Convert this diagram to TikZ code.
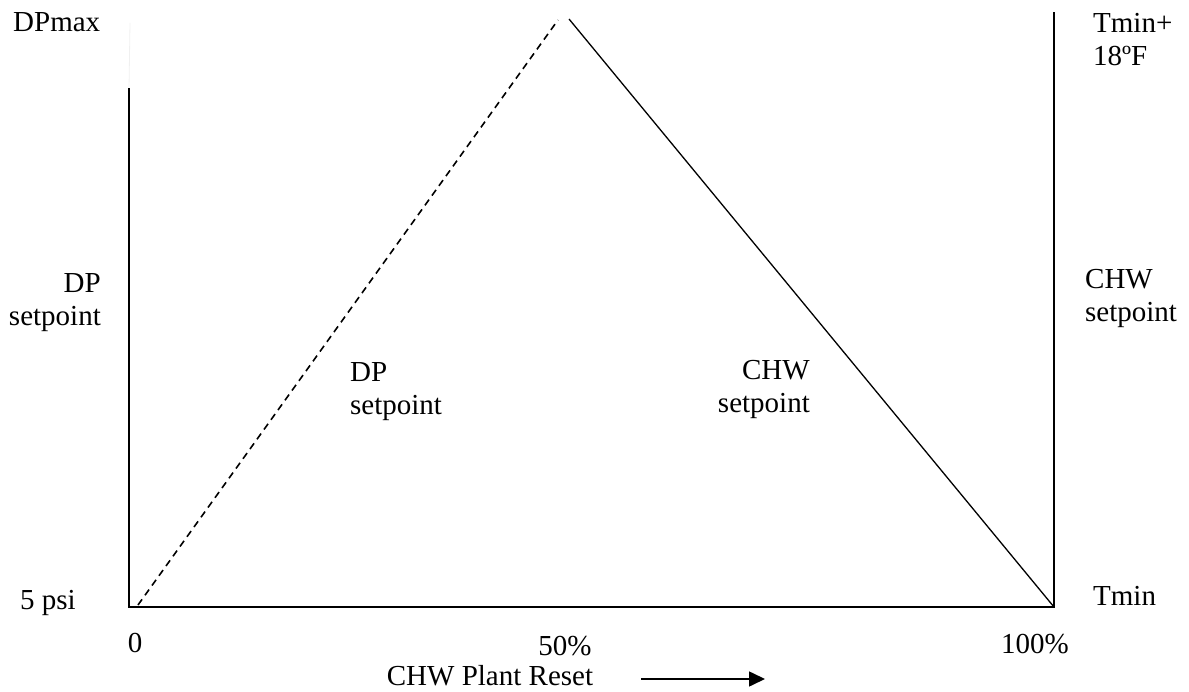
\documentclass[tikz,border=0pt]{standalone}
\usepackage{fontspec}
\setmainfont{Liberation Serif}
\usepackage{tikz}
\usetikzlibrary{arrows.meta,positioning,calc}
\tikzset{
  lbl/.style={inner sep=0pt, font=\fontsize{29}{33}\selectfont},
  axis/.style={line width=1.8pt, line cap=rect},
  dpline/.style={line width=1.6pt, dash pattern=on 7pt off 5pt},
  chwline/.style={line width=1.3pt},
  ar/.style={-{Triangle[length=16pt,width=15pt]}, line width=1.6pt},
}
\begin{document}
\begin{tikzpicture}[x=1pt,y=-1pt]
\useasboundingbox (0,0) rectangle (1189,692);
% --- axes
\coordinate (o) at (129,607);
\coordinate (ltop) at (129,89);
\coordinate (lfaint) at (130,23);
\coordinate (r0) at (1054,607);
\coordinate (rtop) at (1054,13);
\draw[line width=0.8pt,draw=black!6] (ltop) -- (lfaint);
\draw[axis] (ltop) -- (o) -- (r0) -- (rtop);

% --- reset curves
\coordinate (dp0) at (138,605);
\coordinate (dpmax) at (558,20);
\coordinate (chwtop) at (569,19);
\draw[dpline] (dp0) -- (dpmax);
\draw[chwline] (chwtop) -- (r0);

% --- left scale
\node[lbl,anchor=base west] (dpmx) at (13,32) {DPmax};
\node[lbl,anchor=base east,align=right] (dpl) at (101,326) {DP\\setpoint};
\node[lbl,anchor=base west] (psi) at (20,609) {5 psi};

% --- right scale
\node[lbl,anchor=base west,align=left] (tmx) at (1093,66) {Tmin+\\18ºF};
\node[lbl,anchor=base west,align=left] (chwr) at (1085,322) {CHW\\setpoint};
\node[lbl,anchor=base west] (tmn) at (1093,605) {Tmin};

% --- curve labels
\node[lbl,anchor=base west,align=left] (dpc) at (350,415) {DP\\setpoint};
\node[lbl,anchor=base east,align=right] (chwc) at (810,413) {CHW\\setpoint};

% --- bottom scale
\node[lbl,anchor=base] (x0) at (135,652) {0};
\node[lbl,anchor=base] (x50) at (565,655) {50\%};
\node[lbl,anchor=base] (x100) at (1035,653) {100\%};
\node[lbl,anchor=base] (reset) at (490,685) {CHW Plant Reset};
\coordinate (arr0) at (641,679);
\coordinate (arr1) at (765,679);
\draw[ar] (arr0) -- (arr1);
\end{tikzpicture}
\end{document}
